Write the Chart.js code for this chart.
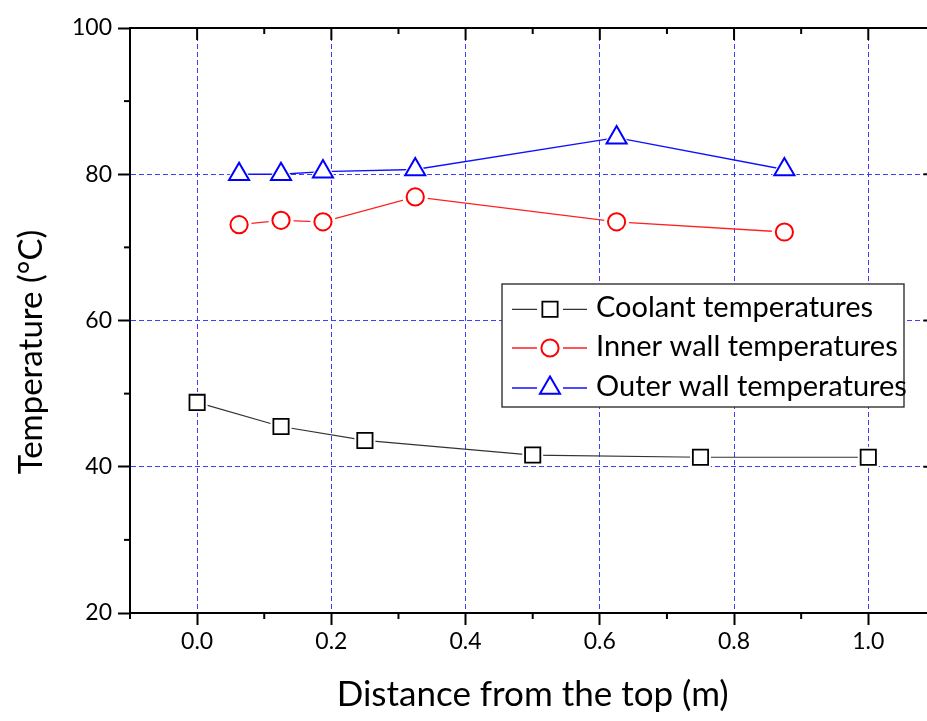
<!DOCTYPE html>
<html><head><meta charset="utf-8">
<script src="https://cdn.jsdelivr.net/npm/chart.js@4"></script>
<style>html,body{margin:0;padding:0;overflow:hidden;background:#fff}#wrap{width:951px;height:721px;position:relative}</style>
</head><body><div id="wrap"><canvas id="c" width="951" height="721"></canvas></div>
<script>
// ---- data ----
const coolantX = [0, 0.125, 0.25, 0.5, 0.75, 1.0];
const coolantY = [48.8, 45.5, 43.6, 41.6, 41.3, 41.3];
const wallX = [0.0625, 0.125, 0.1875, 0.325, 0.625, 0.875];
const innerY = [73.1, 73.7, 73.5, 76.9, 73.5, 72.1];
const outerY = [80.0, 80.0, 80.35, 80.65, 85.0, 80.65];
const seriesNames = ['Coolant temperatures', 'Inner wall temperatures', 'Outer wall temperatures'];
const xTicks = [0, 0.2, 0.4, 0.6, 0.8, 1.0];
const xMinor = [-0.1, 0.1, 0.3, 0.5, 0.7, 0.9, 1.1];
const yTicks = [20, 40, 60, 80, 100];
const yMinor = [30, 50, 70, 90];
const xTitle = 'Distance from the top (m)';
const yTitle = 'Temperature (\u00B0C)';

const FONT = 'Lato';
const pts = (xs, ys) => xs.map((x, i) => ({x: x, y: ys[i]}));

const styles = [
  {line: '#333333', lw: 1.2, mark: '#000000', mw: 1.8, shape: 'rect', r: 10.8},
  {line: '#ff2020', lw: 1.3, mark: '#ff0000', mw: 2, shape: 'circle', r: 8.6},
  {line: '#1010ff', lw: 1.3, mark: '#0000ff', mw: 2, shape: 'triangle', r: 11.6}
];
const series = [pts(coolantX, coolantY), pts(wallX, innerY), pts(wallX, outerY)];

const datasets = [];
series.forEach((d, i) => {
  const s = styles[i];
  datasets.push({label: seriesNames[i] + ' line', data: d, showLine: true, borderColor: s.line, borderWidth: s.lw,
    pointRadius: 0, fill: false, order: 3, tension: 0});
  datasets.push({label: seriesNames[i] + ' gap', data: d, showLine: false, pointStyle: s.shape,
    pointRadius: s.r + 4, pointBackgroundColor: '#fff', pointBorderWidth: 0, pointBorderColor: 'rgba(0,0,0,0)', order: 2});
  datasets.push({label: seriesNames[i], data: d, showLine: false, pointStyle: s.shape,
    pointRadius: s.r, pointBackgroundColor: '#fff', pointBorderWidth: s.mw, pointBorderColor: s.mark, order: 1});
});

const GRID = '#3d3dff';

const frame = {
  id: 'frame',
  afterDraw(chart) {
    const {ctx, chartArea: a, scales: {x, y}} = chart;
    ctx.save();
    ctx.strokeStyle = '#000';
    ctx.lineWidth = 2;
    const ln = (x1, y1, x2, y2) => { ctx.beginPath(); ctx.moveTo(x1, y1); ctx.lineTo(x2, y2); ctx.stroke(); };
    ctx.beginPath(); ctx.moveTo(a.left - 1, a.top); ctx.lineTo(a.right, a.top); ctx.lineTo(a.right, a.bottom + 1); ctx.stroke();
    xTicks.forEach(v => { const p = x.getPixelForValue(v); ln(p, a.top, p, a.top + 12); });
    xMinor.forEach(v => { const p = x.getPixelForValue(v); ln(p, a.top, p, a.top + 6); ln(p, a.bottom, p, a.bottom + 6); });
    yTicks.forEach(v => { const p = y.getPixelForValue(v); ln(a.right, p, a.right - 12, p); });
    yMinor.forEach(v => { const p = y.getPixelForValue(v); ln(a.right, p, a.right - 6, p); ln(a.left, p, a.left - 6, p); });
    // y axis title
    ctx.fillStyle = '#000';
    ctx.font = '33px ' + FONT;
    ctx.textAlign = 'center';
    ctx.textBaseline = 'alphabetic';
    ctx.translate(42, 352);
    ctx.rotate(-Math.PI / 2);
    ctx.fillText(yTitle, 0, 0);
    ctx.restore();

    // legend
    ctx.save();
    const bx = 502, by = 284, bw = 402, bh = 123;
    ctx.fillStyle = '#fff';
    ctx.fillRect(bx, by, bw, bh);
    ctx.strokeStyle = '#222';
    ctx.lineWidth = 1.3;
    ctx.strokeRect(bx, by, bw, bh);
    const rows = [{cy: 309.3, base: 316.7}, {cy: 348, base: 356}, {cy: 388, base: 396}];
    rows.forEach((r, i) => {
      const s = styles[i];
      ctx.strokeStyle = s.line; ctx.lineWidth = s.lw;
      ctx.beginPath(); ctx.moveTo(512, r.cy); ctx.lineTo(537, r.cy); ctx.moveTo(563, r.cy); ctx.lineTo(587, r.cy); ctx.stroke();
      ctx.fillStyle = '#fff'; ctx.strokeStyle = s.mark; ctx.lineWidth = s.mw;
      Chart.helpers.drawPoint(ctx, {pointStyle: s.shape, radius: s.r, borderWidth: s.mw, rotation: 0}, 550, r.cy);
      ctx.fillStyle = '#000';
      ctx.font = '29px ' + FONT;
      ctx.textAlign = 'left';
      ctx.textBaseline = 'alphabetic';
      ctx.fillText(seriesNames[i], 596, r.base);
    });
    ctx.restore();
  }
};

new Chart(document.getElementById('c'), {
  type: 'scatter',
  data: {datasets: datasets},
  plugins: [frame],
  options: {
    responsive: false,
    animation: false,
    events: [],
    layout: {padding: {top: 28, right: 0, left: 0, bottom: 0}},
    plugins: {legend: {display: false}, tooltip: {enabled: false}},
    scales: {
      x: {
        type: 'linear', min: -0.1, max: 1.1,
        afterBuildTicks: s => { s.ticks = xTicks.map(v => ({value: v})); },
        afterFit: s => { s.height = 108; s.paddingLeft = 0; s.paddingRight = 0; },
        ticks: {color: '#000', font: {family: FONT, size: 23}, padding: 3, callback: v => Number(v).toFixed(1)},
        grid: {color: GRID, lineWidth: 1, tickColor: '#000', tickWidth: 2, tickLength: 12},
        border: {display: true, color: '#000', width: 2, dash: [5, 3]},
        title: {display: true, text: xTitle, color: '#000', font: {family: FONT, size: 35}, padding: {top: 0, bottom: 5}}
      },
      y: {
        type: 'linear', min: 20, max: 100,
        afterBuildTicks: s => { s.ticks = yTicks.map(v => ({value: v})); },
        afterFit: s => { s.width = 130; },
        ticks: {color: '#000', font: {family: FONT, size: 23}, padding: 6},
        grid: {color: c => (c.tick && (c.tick.value === 20 || c.tick.value === 100)) ? 'rgba(0,0,0,0)' : GRID,
               lineWidth: 1, tickColor: '#000', tickWidth: 2, tickLength: 12},
        border: {display: true, color: '#000', width: 2, dash: [5, 3]}
      }
    }
  }
});
</script>
</body></html>
